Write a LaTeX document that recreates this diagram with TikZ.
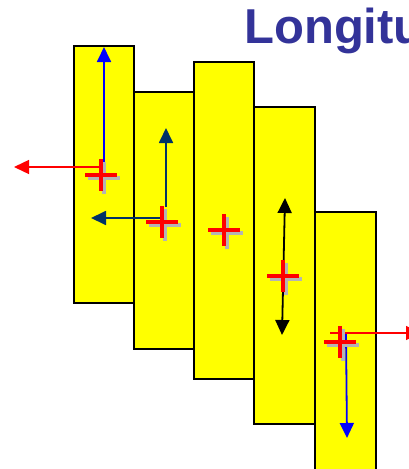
\documentclass[tikz,border=0pt]{standalone}
\usepackage{fontspec}
\setsansfont{Liberation Sans}
\usepackage{tikz}
\usetikzlibrary{arrows.meta}
\usepackage{xcolor}
\definecolor{slabYellow}{RGB}{255, 255, 0}
\definecolor{titleBlue}{RGB}{51, 51, 153}
\definecolor{navyArrow}{RGB}{0, 51, 102}
\definecolor{crossShadow}{RGB}{180, 180, 180}

\tikzset{
  slab/.style={draw=black, fill=slabYellow, line width=1.8pt},
  motion/.style={line width=1.8pt},
  crossarm/.style={red, line width=4pt},
  crossshade/.style={crossShadow, line width=4pt}
}

\begin{document}
\begin{tikzpicture}[x=1pt, y=-1pt, >={Triangle[length=15pt, width=14pt]}]
  \useasboundingbox (0,0) rectangle (409,469);
  \clip (0,0) rectangle (409,469);

  % Title (cut off at the right edge)
  \node[anchor=base west, inner sep=0, text=titleBlue,
        font=\sffamily\bfseries\fontsize{49}{49}\selectfont] (title) at (244,43) {Longitu};

  % The five slabs, left to right
  \foreach \xl/\xr/\yt/\yb in {74/134/46/303, 134/194/92/349, 194/254/62/379,
                               254/315/107/424, 315/376/212/490} {
    \draw[slab] (\xl,\yt) rectangle (\xr,\yb);
  }

  % Centres of the crosses
  \coordinate (c1) at (101,175);
  \coordinate (c2) at (162,222);
  \coordinate (c3) at (224,230);
  \coordinate (c4) at (283,276);
  \coordinate (c5) at (340,342);

  % Arrows
  \draw[->, motion, blue] (104,162) -- (104,47);
  \draw[->, motion, red, line width=1.4pt] (100,167) -- (14,167);
  \draw[->, motion, navyArrow] (166,207) -- (166,128);
  \draw[->, motion, navyArrow] (162,218) -- (91,218);
  \draw[<->, motion, black] (285,198) -- (282,335);
  \draw[->, motion, blue] (346,333) -- (347,438);
  \draw[->, motion, red, line width=1.4pt] (330,333) -- (421,333);

  % Crosses with their shadow
  \foreach \c in {c1,c2,c3,c4,c5} {
    \draw[crossshade] ([shift={(-13,3)}]\c) -- ([shift={(19,3)}]\c)
                      ([shift={(3,-13)}]\c) -- ([shift={(3,19)}]\c);
    \draw[crossarm] ([shift={(-16,0)}]\c) -- ([shift={(16,0)}]\c)
                    ([shift={(0,-16)}]\c) -- ([shift={(0,16)}]\c);
  }
\end{tikzpicture}
\end{document}
